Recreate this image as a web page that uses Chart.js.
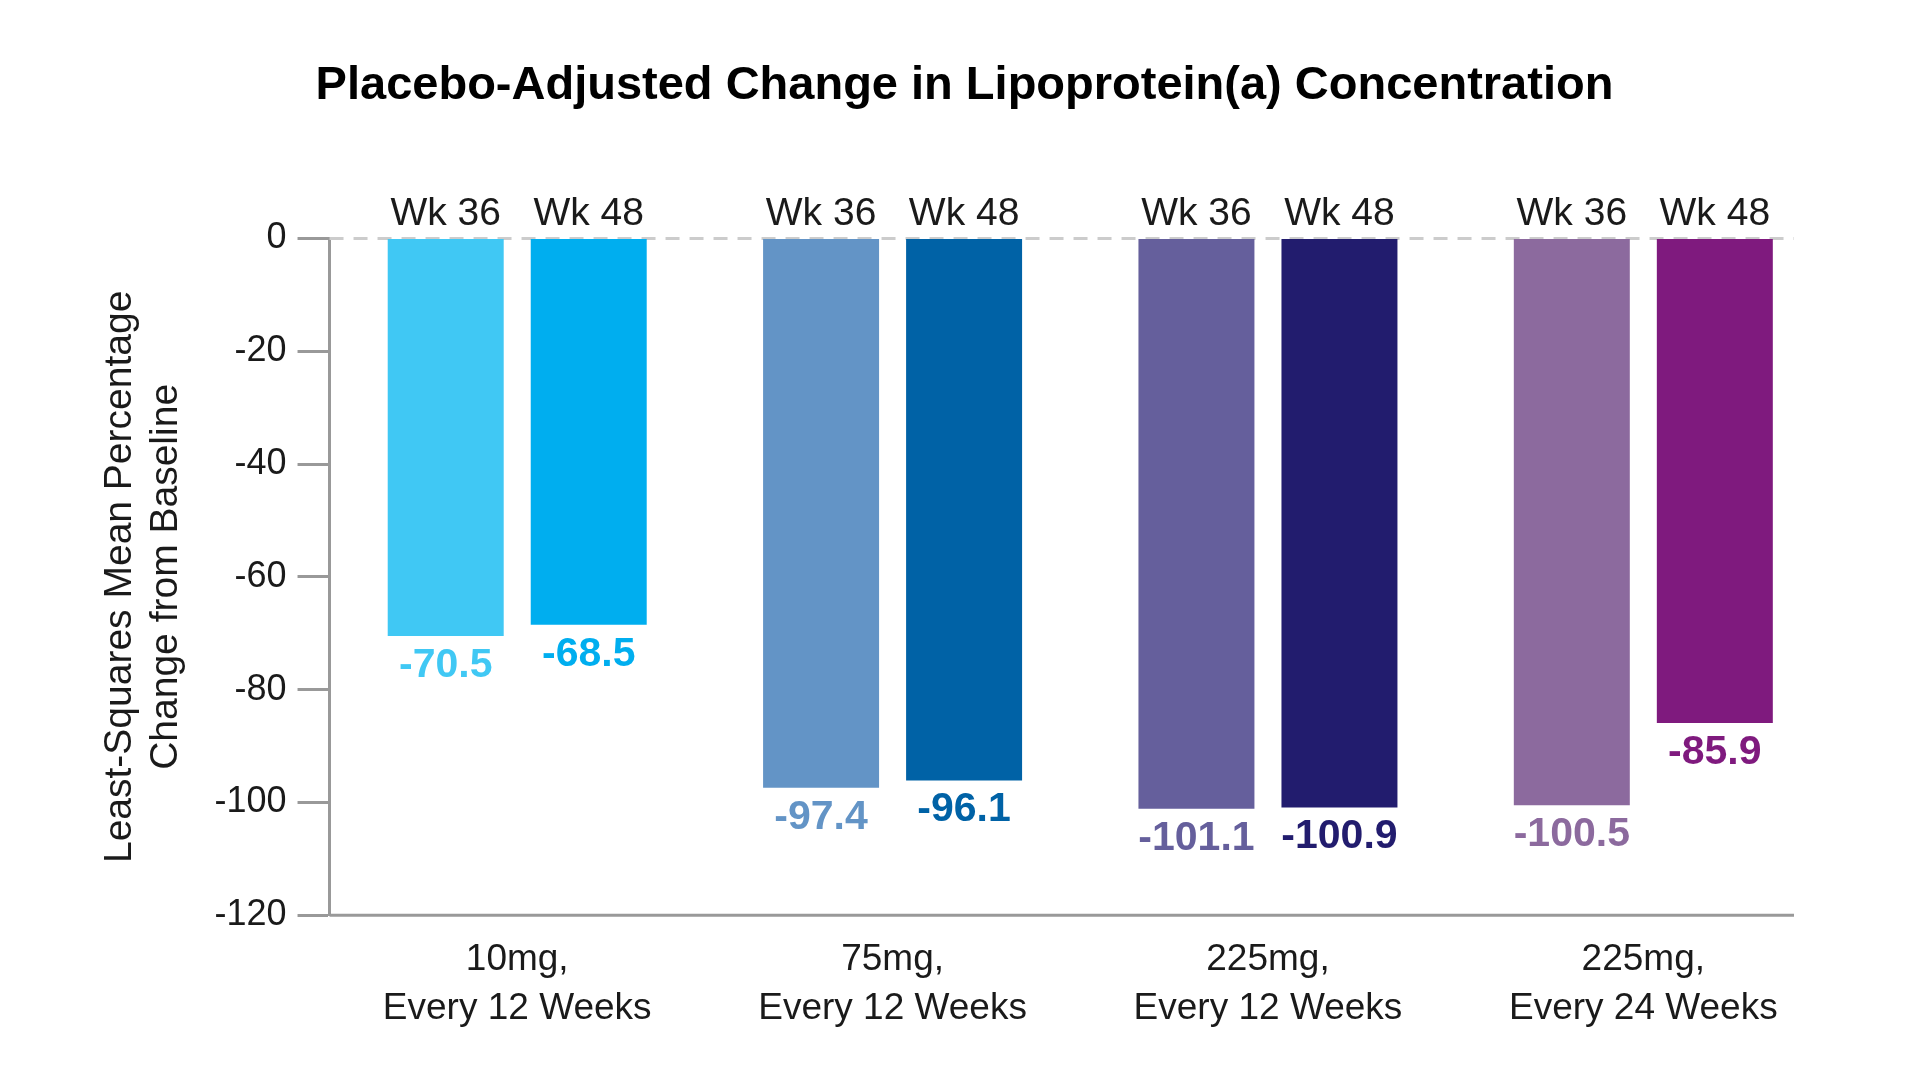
<!DOCTYPE html>
<html>
<head>
<meta charset="utf-8">
<title>Placebo-Adjusted Change in Lipoprotein(a) Concentration</title>
<script src="https://cdn.jsdelivr.net/npm/chart.js@4.4.1/dist/chart.umd.min.js"></script>
<style>
    html, body { margin: 0; padding: 0; background: #ffffff; }
    #chart-wrap { width: 1920px; height: 1080px; }
</style>
</head>
<body>
<div id="chart-wrap"><canvas id="lpa-chart"></canvas></div>
<script>
var categories = [
    ["10mg,", "Every 12 Weeks"],
    ["75mg,", "Every 12 Weeks"],
    ["225mg,", "Every 12 Weeks"],
    ["225mg,", "Every 24 Weeks"]
];
var week36Values = [-70.5, -97.4, -101.1, -100.5];
var week48Values = [-68.5, -96.1, -100.9, -85.9];
var week36Colors = ["#40c8f4", "#6394c6", "#655f9c", "#8c6a9e"];
var week48Colors = ["#00aeef", "#0062a6", "#221c6e", "#7f1a7e"];
var yTicks = [0, -20, -40, -60, -80, -100, -120];

var fontFamily = "'Liberation Sans', Arial, sans-serif";

// labels above and below each bar, plus the dashed zero line
var barLabels = {
    id: "barLabels",
    beforeDatasetsDraw: function (chart) {
        var ctx = chart.ctx;
        var area = chart.chartArea;
        var y0 = chart.scales.y.getPixelForValue(0);
        ctx.save();
        ctx.strokeStyle = "#cccccc";
        ctx.lineWidth = 3;
        ctx.setLineDash([14, 10]);
        ctx.beginPath();
        ctx.moveTo(area.left, y0);
        ctx.lineTo(area.right - 37, y0);
        ctx.stroke();
        ctx.setLineDash([]);
        // x axis line
        ctx.strokeStyle = "#999999";
        ctx.lineWidth = 3;
        ctx.beginPath();
        ctx.moveTo(area.left, area.bottom);
        ctx.lineTo(area.right - 37, area.bottom);
        ctx.stroke();
        ctx.restore();
    },
    afterDatasetsDraw: function (chart) {
        var ctx = chart.ctx;
        var y0 = chart.scales.y.getPixelForValue(0);
        ctx.save();
        ctx.textAlign = "center";
        chart.data.datasets.forEach(function (ds, di) {
            var meta = chart.getDatasetMeta(di);
            meta.data.forEach(function (bar, i) {
                ctx.fillStyle = "#1a1a1a";
                ctx.font = "39px " + fontFamily;
                ctx.textBaseline = "bottom";
                ctx.fillText(ds.label, bar.x, y0 - 5);

                ctx.fillStyle = ds.backgroundColor[i];
                ctx.font = "bold 41px " + fontFamily;
                ctx.textBaseline = "top";
                ctx.fillText(ds.data[i].toFixed(1), bar.x, bar.y + 9);
            });
        });
        ctx.restore();
    }
};

var context = document.getElementById("lpa-chart").getContext("2d");
var lpaChart = new Chart(context, {
    type: "bar",
    data: {
        labels: categories,
        datasets: [{
            label: "Wk 36",
            data: week36Values,
            backgroundColor: week36Colors,
            categoryPercentage: 0.762,
            barPercentage: 0.811
        },
        {
            label: "Wk 48",
            data: week48Values,
            backgroundColor: week48Colors,
            categoryPercentage: 0.762,
            barPercentage: 0.811
        }]
    },
    plugins: [barLabels],
    options: {
        responsive: true,
        maintainAspectRatio: false,
        animation: false,
        layout: {
            padding: { left: 98, right: 89, top: 0, bottom: 27 }
        },
        plugins: {
            legend: { display: false },
            tooltip: { enabled: false },
            title: {
                display: true,
                text: "Placebo-Adjusted Change in Lipoprotein(a) Concentration",
                color: "#000000",
                font: { family: fontFamily, size: 47, weight: "bold" },
                padding: { top: 58, bottom: 124 }
            }
        },
        scales: {
            x: {
                grid: { display: false, drawTicks: false },
                border: { display: false },
                ticks: {
                    color: "#1a1a1a",
                    padding: 20,
                    font: { family: fontFamily, size: 37, lineHeight: 1.32 }
                }
            },
            y: {
                min: -120,
                max: 0,
                afterBuildTicks: function (scale) {
                    scale.ticks = yTicks.map(function (v) { return { value: v }; });
                },
                grid: {
                    drawOnChartArea: false,
                    drawTicks: true,
                    tickLength: 32,
                    tickWidth: 3,
                    tickColor: "#999999"
                },
                border: { display: true, color: "#999999", width: 3 },
                ticks: {
                    color: "#1a1a1a",
                    padding: 11,
                    font: { family: fontFamily, size: 36 }
                },
                title: {
                    display: true,
                    text: ["Least-Squares Mean Percentage", "Change from Baseline"],
                    color: "#1a1a1a",
                    font: { family: fontFamily, size: 39, lineHeight: 1.16 },
                    padding: { top: 0, bottom: 15 }
                }
            }
        }
    }
});
</script>
</body>
</html>
